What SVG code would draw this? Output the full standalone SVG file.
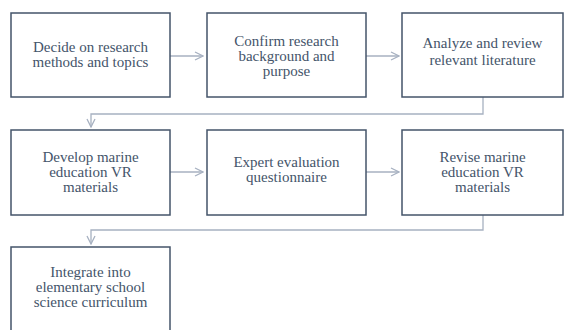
<svg xmlns="http://www.w3.org/2000/svg" width="565" height="330" viewBox="0 0 565 330">
<style>
.box{fill:#fff;stroke:#44546a;stroke-width:1.5}
.c{fill:none;stroke:#a7b1c1;stroke-width:1.3}
.t{font-size:15px;fill:#44546a;text-anchor:middle}
</style>
<defs>
<marker id="ah" viewBox="0 0 10 10" refX="9" refY="5" markerWidth="10" markerHeight="10" markerUnits="userSpaceOnUse" orient="auto">
<path d="M1,1 L9,5 L1,9" fill="none" stroke="#a7b1c1" stroke-width="1.3"/>
</marker>
</defs>
<rect width="565" height="330" fill="#fff"/>
<g id="connectors">
<path class="c" d="M170,56 H203" marker-end="url(#ah)"/>
<path class="c" d="M366,56 H399" marker-end="url(#ah)"/>
<path class="c" d="M483,97 V114 H91 V127" marker-end="url(#ah)"/>
<path class="c" d="M170,172 H203" marker-end="url(#ah)"/>
<path class="c" d="M366,172 H399" marker-end="url(#ah)"/>
<path class="c" d="M483,215 V230 H91 V244" marker-end="url(#ah)"/>
</g>
<g id="n1"><rect class="box" x="11" y="13" width="159" height="84"/>
<text class="t" font-family="Times New Roman" x="90.5" y="52">Decide on research</text>
<text class="t" font-family="Times New Roman" x="90.5" y="67">methods and topics</text></g>
<g id="n2"><rect class="box" x="207" y="13" width="159" height="84"/>
<text class="t" font-family="Times New Roman" x="286.5" y="46">Confirm research</text>
<text class="t" font-family="Times New Roman" x="286.5" y="61">background and</text>
<text class="t" font-family="Times New Roman" x="286.5" y="76">purpose</text></g>
<g id="n3"><rect class="box" x="402" y="13" width="161" height="84"/>
<text class="t" font-family="Times New Roman" x="482.5" y="48">Analyze and review</text>
<text class="t" font-family="Times New Roman" x="482.5" y="65">relevant literature</text></g>
<g id="n4"><rect class="box" x="11" y="130" width="159" height="85"/>
<text class="t" font-family="Times New Roman" x="90.5" y="162">Develop marine</text>
<text class="t" font-family="Times New Roman" x="90.5" y="177">education VR</text>
<text class="t" font-family="Times New Roman" x="90.5" y="192">materials</text></g>
<g id="n5"><rect class="box" x="207" y="130" width="159" height="85"/>
<text class="t" font-family="Times New Roman" x="286.5" y="167">Expert evaluation</text>
<text class="t" font-family="Times New Roman" x="286.5" y="182">questionnaire</text></g>
<g id="n6"><rect class="box" x="402" y="130" width="161" height="85"/>
<text class="t" font-family="Times New Roman" x="482.5" y="162">Revise marine</text>
<text class="t" font-family="Times New Roman" x="482.5" y="177">education VR</text>
<text class="t" font-family="Times New Roman" x="482.5" y="192">materials</text></g>
<g id="n7"><rect class="box" x="11" y="247" width="159" height="90"/>
<text class="t" font-family="Times New Roman" x="90.5" y="277">Integrate into</text>
<text class="t" font-family="Times New Roman" x="90.5" y="292">elementary school</text>
<text class="t" font-family="Times New Roman" x="90.5" y="307">science curriculum</text></g>
</svg>
